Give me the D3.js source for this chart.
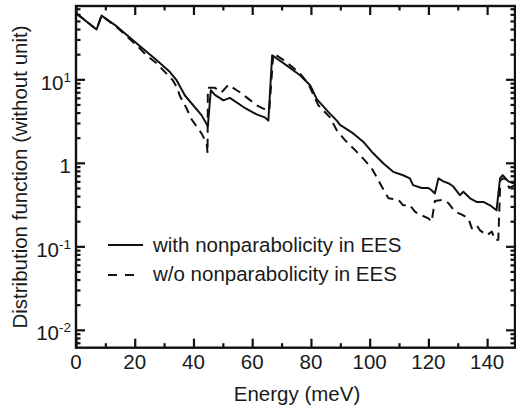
<!DOCTYPE html>
<html><head><meta charset="utf-8">
<script src="https://cdn.jsdelivr.net/npm/d3@7"></script>
<style>
html,body{margin:0;padding:0;background:#fff;}
text{font-family:"Liberation Sans",Arial,Helvetica,sans-serif;fill:#1a1a1a;}
</style></head>
<body>
<svg id="c" width="516" height="413"></svg>
<script>
// ---- data ----
const solidE = [0,7,8.7,13.9,20.7,27.5,32,34.3,37.1,42.8,44.9,45.9,47.3,50.2,52.4,57,61.5,64.3,65.5,66.8,71.7,76.3,79.7,80.3,82,85.9,88.8,89.9,94.4,97.8,101.2,104.6,108,111.4,113.7,114.8,117.7,120,121.1,122.2,123.4,125.1,126.8,128.5,130.7,131.9,134.2,136.4,138.7,141,143.2,144.4,145.3,147.2,148.9,150];
const solidV = [62,39.5,58,43,26.8,16.9,12.2,9.7,6.4,3.7,2.75,7.4,6.5,5.6,6.0,4.66,3.8,3.5,3.2,19.4,14.7,11.2,8.5,7.7,5.8,4.07,3.2,2.84,2.25,1.79,1.3,0.99,0.78,0.71,0.65,0.54,0.5,0.5,0.47,0.43,0.65,0.6,0.57,0.52,0.41,0.45,0.376,0.34,0.34,0.31,0.27,0.65,0.71,0.6,0.57,0.58];
const dashE = [0,7,8.7,13.9,20.7,24,27.5,30.9,33,34.3,35.4,37.5,39.4,42.8,44.5,44.8,44.9,47.3,49.6,51.9,55.8,61.5,63.8,65.8,67.2,71.7,76.3,79.1,82.5,86.5,88.8,91.6,96.7,100.7,103.5,106.4,109.8,111.4,113.7,115.4,117.1,120,121.1,122.2,125.1,126.8,129.1,131.4,133.6,134.8,136.4,137.6,139.9,141.6,142.7,143.8,144.5,146,147.5,150];
const dashV = [62,39.5,58,42,25.5,19.4,15.5,11.6,9.7,8.1,6.3,4.6,3.3,2.24,1.7,1.3,7.9,7.9,7.0,8.6,7.0,4.9,4.45,4.2,20.5,16.1,11.7,8.9,4.9,3.5,2.45,1.87,1.24,0.86,0.57,0.376,0.36,0.31,0.31,0.26,0.24,0.216,0.197,0.35,0.36,0.33,0.26,0.24,0.216,0.164,0.18,0.155,0.136,0.15,0.119,0.12,0.62,0.66,0.5,0.55];
const xMajor = [0,20,40,60,80,100,120,140];
const xMinor = [10,30,50,70,90,110,130,150];
const yMajor = [0.01,0.1,1,10];
const yLabelBase = ["10","10","1","10"];
const yLabelSup = ["-2","-1","","1"];
const legendLabels = ["with nonparabolicity in EES","w/o nonparabolicity in EES"];
const xTitle = "Energy (meV)";
const yTitle = "Distribution function (without unit)";

// ---- scales ----
const L = 76, R = 516.5, T = 6, B = 347.7;
const x = d3.scaleLinear().domain([0,150]).range([L,R]);
const y = d3.scaleLog().domain([Math.pow(10,-2.214), Math.pow(10,1.878)]).range([B,T]);
const yMinor = [];
for (let e=-3;e<=1;e++) for (let m=2;m<=9;m++){ const v=m*Math.pow(10,e); if (v>=y.domain()[0] && v<=y.domain()[1]) yMinor.push(v); }

const svg = d3.select("#c");
svg.append("defs").append("clipPath").attr("id","clip").append("rect")
  .attr("x",L).attr("y",T).attr("width",515-L).attr("height",B-T);

// curves
const line = d3.line().x(d=>x(d[0])).y(d=>y(d[1]));
const g = svg.append("g").attr("clip-path","url(#clip)");
g.append("path").datum(dashE.map((e,i)=>[e,dashV[i]]))
  .attr("d",line).attr("fill","none").attr("stroke","#111").attr("stroke-width",2)
  .attr("stroke-dasharray","9,6").attr("stroke-linejoin","round");
g.append("path").datum(solidE.map((e,i)=>[e,solidV[i]]))
  .attr("d",line).attr("fill","none").attr("stroke","#111").attr("stroke-width",2)
  .attr("stroke-linejoin","round");

// axes (ticks inward)
function styleAxis(sel){
  sel.select(".domain").remove();
  sel.selectAll(".tick line").attr("stroke","#111").attr("stroke-width",2.2);
  sel.selectAll(".tick text").remove();
}
svg.append("g").attr("transform",`translate(0,${B})`).call(d3.axisBottom(x).tickValues(xMajor).tickSize(-9)).call(styleAxis);
svg.append("g").attr("transform",`translate(0,${B})`).call(d3.axisBottom(x).tickValues(xMinor).tickSize(-4.5)).call(styleAxis);
svg.append("g").attr("transform",`translate(0,${T})`).call(d3.axisTop(x).tickValues(xMajor).tickSize(-9)).call(styleAxis);
svg.append("g").attr("transform",`translate(0,${T})`).call(d3.axisTop(x).tickValues(xMinor).tickSize(-4.5)).call(styleAxis);
svg.append("g").attr("transform",`translate(${L},0)`).call(d3.axisLeft(y).tickValues(yMajor).tickSize(-9)).call(styleAxis);
svg.append("g").attr("transform",`translate(${L},0)`).call(d3.axisLeft(y).tickValues(yMinor).tickSize(-4.5)).call(styleAxis);
svg.append("g").attr("transform",`translate(515,0)`).call(d3.axisRight(y).tickValues(yMajor).tickSize(-9)).call(styleAxis);
svg.append("g").attr("transform",`translate(515,0)`).call(d3.axisRight(y).tickValues(yMinor).tickSize(-4.5)).call(styleAxis);

// frame
svg.append("rect").attr("x",L).attr("y",T).attr("width",515-L).attr("height",B-T)
  .attr("fill","none").attr("stroke","#111").attr("stroke-width",2.4);

// tick labels
svg.append("g").selectAll("text").data(xMajor).join("text")
  .attr("x",d=>x(d)).attr("y",B+21).attr("text-anchor","middle")
  .attr("font-size",20.5).text(d=>d);
const yl = svg.append("g").selectAll("text").data(yMajor).join("text")
  .attr("x",71).attr("y",d=>y(d)+10.5).attr("text-anchor","end").attr("font-size",20.5);
yl.append("tspan").text((d,i)=>yLabelBase[i]);
yl.append("tspan").attr("font-size",13.5).attr("dy",-8).text((d,i)=>yLabelSup[i]);

// titles
svg.append("text").attr("x",297).attr("y",401).attr("text-anchor","middle").attr("font-size",20.5).text(xTitle);
svg.append("text").attr("transform","translate(26.5,177) rotate(-90)").attr("text-anchor","middle").attr("font-size",20.5).text(yTitle);

// legend
svg.append("line").attr("x1",108).attr("x2",143).attr("y1",245).attr("y2",245).attr("stroke","#111").attr("stroke-width",2);
svg.append("line").attr("x1",108).attr("x2",136).attr("y1",275).attr("y2",275).attr("stroke","#111").attr("stroke-width",2).attr("stroke-dasharray","9,8");
svg.append("text").attr("x",153).attr("y",251.7).attr("font-size",20.5).text(legendLabels[0]);
svg.append("text").attr("x",153).attr("y",280.5).attr("font-size",20.5).text(legendLabels[1]);
</script>
</body></html>
